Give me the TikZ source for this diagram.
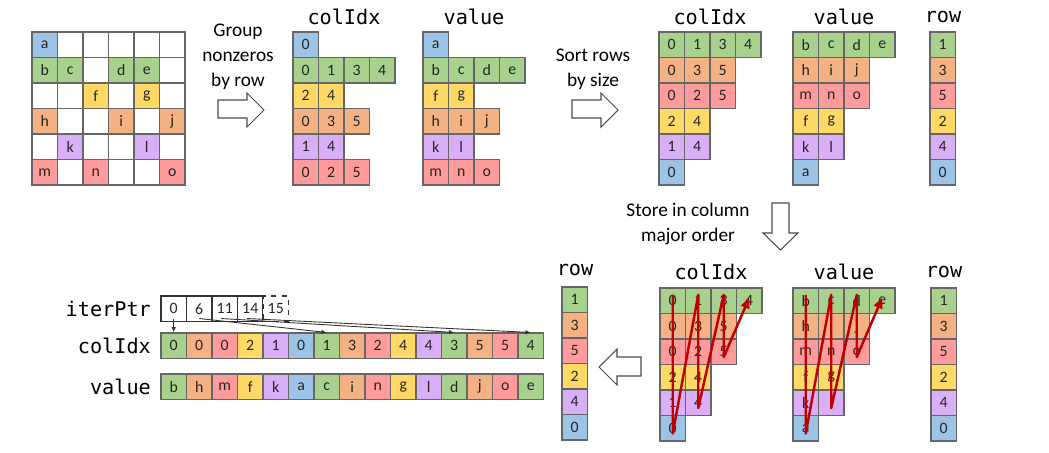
\documentclass[tikz,border=0pt]{standalone}
\usepackage{fontspec}
\setmainfont{Carlito}
\newfontfamily\codefont{DejaVu Sans Mono}
\usetikzlibrary{arrows.meta,calc}

\definecolor{cb}{HTML}{9DC3E6}
\definecolor{cg}{HTML}{A9D18E}
\definecolor{cy}{HTML}{FFD966}
\definecolor{co}{HTML}{F4B183}
\definecolor{cp}{HTML}{D9B0F7}
\definecolor{cr}{HTML}{FF9B9B}
\definecolor{zigred}{HTML}{C00000}

% one row of cells with one colour: prefix, x, y, colour, values
\newcommand{\cellrow}[5]{\foreach \v [count=\i from 0] in {#5}
  {\node[cell,fill=#4] (#1-\i) at ({#2+12.75+25.5*\i},{#3+12.75}) {\v};}}
% one row of cells, value/colour pairs
\newcommand{\cellline}[4]{\foreach \v/\c [count=\i from 0] in {#4}
  {\node[cell,fill=\c] (#1-\i) at ({#2+12.75+25.5*\i},{#3+12.75}) {\v};}}
% one column of cells, value/colour pairs
\newcommand{\cellcol}[4]{\foreach \v/\c [count=\i from 0] in {#4}
  {\node[cell,fill=\c] (#1-\i) at ({#2+12.75},{#3+12.75+25.5*\i}) {\v};}}

\begin{document}
\begin{tikzpicture}[x=0.02cm, y=-0.02cm,
  cell/.style={draw=black!60, line width=0.6pt, minimum size=0.51cm, inner sep=0pt,
    font=\fontsize{9}{10}\selectfont, text=black!85},
  ptrcell/.style={cell, fill=white, draw=black!80},
  code/.style={font=\codefont\fontsize{11.5}{13}\selectfont, inner sep=1pt},
  caption/.style={font=\fontsize{11}{14.2}\selectfont, align=center, inner sep=0pt},
  blockarrow/.style={draw=black!70, fill=white, line width=0.6pt},
  zig/.style={draw=zigred, line width=1.4pt, line join=round, -{Triangle[length=6pt,width=5pt]}},
  ptr/.style={draw=black!80, line width=0.5pt, -{Latex[length=3pt,width=2.5pt]}}]
  \useasboundingbox (0,0) rectangle (1049,453);

  % dense matrix
  \cellline{m0}{32}{32}{a/cb, {}/white, {}/white, {}/white, {}/white, {}/white}
  \cellline{m1}{32}{57.5}{b/cg, c/cg, {}/white, d/cg, e/cg, {}/white}
  \cellline{m2}{32}{83}{{}/white, {}/white, f/cy, {}/white, g/cy, {}/white}
  \cellline{m3}{32}{108.5}{h/co, {}/white, {}/white, i/co, {}/white, j/co}
  \cellline{m4}{32}{134}{{}/white, k/cp, {}/white, {}/white, l/cp, {}/white}
  \cellline{m5}{32}{159.5}{m/cr, {}/white, n/cr, {}/white, {}/white, o/cr}

  \node[caption] (grouptxt) at (238,57) {Group\\nonzeros\\by row};
  \draw[blockarrow] (218,100) -- (247,100) -- (247,93) -- (264,110) -- (247,127) -- (247,118) -- (218,118) -- cycle;

  % grouped by row
  \node[code] (gclbl) at (344,17) {colIdx};
  \cellrow{gc0}{293}{32}{cb}{0}
  \cellrow{gc1}{293}{57.5}{cg}{0,1,3,4}
  \cellrow{gc2}{293}{83}{cy}{2,4}
  \cellrow{gc3}{293}{108.5}{co}{0,3,5}
  \cellrow{gc4}{293}{134}{cp}{1,4}
  \cellrow{gc5}{293}{159.5}{cr}{0,2,5}

  \node[code] (gvlbl) at (474,17) {value};
  \cellrow{gv0}{423}{32}{cb}{a}
  \cellrow{gv1}{423}{57.5}{cg}{b,c,d,e}
  \cellrow{gv2}{423}{83}{cy}{f,g}
  \cellrow{gv3}{423}{108.5}{co}{h,i,j}
  \cellrow{gv4}{423}{134}{cp}{k,l}
  \cellrow{gv5}{423}{159.5}{cr}{m,n,o}

  \node[caption] (sorttxt) at (593,69.5) {Sort rows\\by size};
  \draw[blockarrow] (572,100) -- (601,100) -- (601,93) -- (618,110) -- (601,127) -- (601,118) -- (572,118) -- cycle;

  % sorted by size
  \node[code] (sclbl) at (710,17) {colIdx};
  \cellrow{sc0}{659}{32}{cg}{0,1,3,4}
  \cellrow{sc1}{659}{57.5}{co}{0,3,5}
  \cellrow{sc2}{659}{83}{cr}{0,2,5}
  \cellrow{sc3}{659}{108.5}{cy}{2,4}
  \cellrow{sc4}{659}{134}{cp}{1,4}
  \cellrow{sc5}{659}{159.5}{cb}{0}

  \node[code] (svlbl) at (844,17) {value};
  \cellrow{sv0}{793}{32}{cg}{b,c,d,e}
  \cellrow{sv1}{793}{57.5}{co}{h,i,j}
  \cellrow{sv2}{793}{83}{cr}{m,n,o}
  \cellrow{sv3}{793}{108.5}{cy}{f,g}
  \cellrow{sv4}{793}{134}{cp}{k,l}
  \cellrow{sv5}{793}{159.5}{cb}{a}

  \node[code] (srlbl) at (943,17) {row};
  \cellcol{sr}{930}{32}{1/cg, 3/co, 5/cr, 2/cy, 4/cp, 0/cb}

  \node[caption] (storetxt) at (688,224) {Store in column\\major order};
  \draw[blockarrow] (772,203) -- (789,203) -- (789,233) -- (798,233) -- (780.5,250) -- (763,233) -- (772,233) -- cycle;

  % column major traversal
  \node[code] (bclbl) at (711,272) {colIdx};
  \cellrow{bc0}{660}{288}{cg}{0,1,3,4}
  \cellrow{bc1}{660}{313.5}{co}{0,3,5}
  \cellrow{bc2}{660}{339}{cr}{0,2,5}
  \cellrow{bc3}{660}{364.5}{cy}{2,4}
  \cellrow{bc4}{660}{390}{cp}{1,4}
  \cellrow{bc5}{660}{415.5}{cb}{0}
  \draw[zig] ([yshift=3.4pt]bc0-0.center) -- ([yshift=-3pt]bc5-0.center) -- ([yshift=3.4pt]bc0-1.center)
    -- ([yshift=-3pt]bc4-1.center) -- ([yshift=3.4pt]bc0-2.center) -- ([yshift=-3pt]bc2-2.center) -- ([yshift=1.7pt]bc0-3.center);

  \node[code] (bvlbl) at (844,272) {value};
  \cellrow{bv0}{793}{288}{cg}{b,c,d,e}
  \cellrow{bv1}{793}{313.5}{co}{h,i,j}
  \cellrow{bv2}{793}{339}{cr}{m,n,o}
  \cellrow{bv3}{793}{364.5}{cy}{f,g}
  \cellrow{bv4}{793}{390}{cp}{k,l}
  \cellrow{bv5}{793}{415.5}{cb}{a}
  \draw[zig] ([yshift=3.4pt]bv0-0.center) -- ([yshift=-3pt]bv5-0.center) -- ([yshift=3.4pt]bv0-1.center)
    -- ([yshift=-3pt]bv4-1.center) -- ([yshift=3.4pt]bv0-2.center) -- ([yshift=-3pt]bv2-2.center) -- ([yshift=1.7pt]bv0-3.center);

  \node[code] (brlbl) at (944,272) {row};
  \cellcol{br}{931}{288}{1/cg, 3/co, 5/cr, 2/cy, 4/cp, 0/cb}

  \draw[blockarrow] (641,357) -- (617,357) -- (617,349) -- (599,367) -- (617,385) -- (617,376) -- (641,376) -- cycle;

  % final arrays
  \node[code] (lrlbl) at (575,270) {row};
  \cellcol{lr}{562}{287}{1/cg, 3/co, 5/cr, 2/cy, 4/cp, 0/cb}

  \node[code, anchor=east] (iplbl) at (153,309) {iterPtr};
  \node[code, anchor=east] (fclbl) at (153,346) {colIdx};
  \node[code, anchor=east] (fvlbl) at (153,387) {value};

  \foreach \v [count=\i from 0] in {0,6,11,14}
    {\node[ptrcell] (ip-\i) at ({161+12.75+25.5*\i},{296+12.75}) {\v};}
  \node[ptrcell, dashed] (ip-4) at ({161+12.75+25.5*4},{296+12.75}) {15};

  \cellline{fc}{161}{333}{0/cg, 0/co, 0/cr, 2/cy, 1/cp, 0/cb, 1/cg, 3/co, 2/cr, 4/cy, 4/cp, 3/cg, 5/co, 5/cr, 4/cg}
  \cellline{fv}{161}{374}{b/cg, h/co, m/cr, f/cy, k/cp, a/cb, c/cg, i/co, n/cr, g/cy, l/cp, d/cg, j/co, o/cr, e/cg}

  \draw[ptr] ([yshift=2pt]ip-0.south) -- (fc-0.north);
  \draw[ptr] ([yshift=2pt]ip-1.south) -- (fc-6.north);
  \draw[ptr] ([xshift=-2pt,yshift=2pt]ip-2.south) -- (fc-11.north);
  \draw[ptr] ([xshift=-2pt,yshift=2pt]ip-3.south) -- (fc-14.north);
\end{tikzpicture}
\end{document}
